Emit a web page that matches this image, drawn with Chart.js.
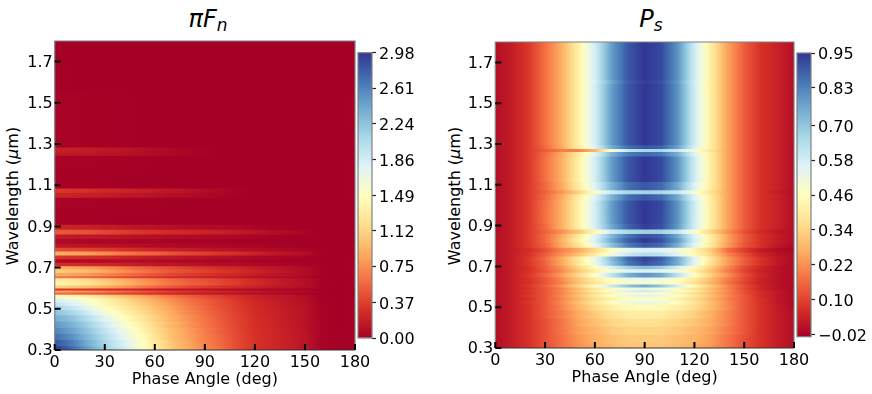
<!DOCTYPE html>
<html>
<head>
<meta charset="utf-8">
<script src="https://cdn.jsdelivr.net/npm/chart.js@4"></script>
<style>
  html, body { margin: 0; padding: 0; background: #fff; }
  body { width: 872px; height: 394px; position: relative; overflow: hidden; font-family: 'DejaVu Sans', sans-serif; color: #000; }
  canvas { position: absolute; top: 0; }
  .title { position: absolute; top: 4px; font-size: 24px; line-height: 30px; font-style: italic; white-space: nowrap; transform: translateX(-50%); }
  .title sub { font-size: 17px; line-height: 0; vertical-align: -4px; }
  .ylabel { position: absolute; top: 196px; font-size: 16px; line-height: 18px; white-space: nowrap; transform: translate(-50%, -50%) rotate(-90deg); }
</style>
</head>
<body>
<div class="title" style="left:208px">πF<sub>n</sub></div>
<div class="title" style="left:651px">P<sub>s</sub></div>
<div class="ylabel" style="left:13px">Wavelength (<i>μ</i>m)</div>
<div class="ylabel" style="left:455px">Wavelength (<i>μ</i>m)</div>
<canvas id="fluxChart"></canvas>
<canvas id="fluxBar"></canvas>
<canvas id="polChart"></canvas>
<canvas id="polBar"></canvas>
<script>
const phases = [0, 10, 20, 30, 40, 50, 60, 70, 80, 90, 100, 110, 120, 130, 140, 150, 160, 170, 180];
const phaseTicks = [0, 30, 60, 90, 120, 150, 180];
const wavelengthTicks = [0.3, 0.5, 0.7, 0.9, 1.1, 1.3, 1.5, 1.7];
const fluxTicks = [0, 0.37, 0.75, 1.12, 1.49, 1.86, 2.24, 2.61, 2.98];
const polTicks = [-0.02, 0.10, 0.22, 0.34, 0.46, 0.58, 0.70, 0.83, 0.95];

const fluxWavelengths = [0.30, 0.33, 0.36, 0.39, 0.42, 0.45, 0.48, 0.50, 0.52, 0.535, 0.55, 0.56, 0.57, 0.58, 0.59, 0.60, 0.62, 0.64, 0.65, 0.66, 0.68, 0.695, 0.71, 0.73, 0.745, 0.765, 0.785, 0.80, 0.825, 0.845, 0.87, 0.89, 0.92, 1.02, 1.05, 1.07, 1.09, 1.23, 1.25, 1.27, 1.29, 1.80];
const fluxValues = [
  [2.98, 2.75, 2.45, 2.15, 1.90, 1.62, 1.30, 1.05, 0.88, 0.72, 0.58, 0.43, 0.30, 0.25, 0.19, 0.13, 0.02, 0, 0],
  [2.85, 2.65, 2.38, 2.10, 1.85, 1.58, 1.28, 1.03, 0.86, 0.70, 0.56, 0.42, 0.30, 0.25, 0.19, 0.13, 0.02, 0, 0],
  [2.72, 2.54, 2.30, 2.04, 1.78, 1.52, 1.24, 1.00, 0.84, 0.68, 0.55, 0.41, 0.30, 0.24, 0.19, 0.13, 0.02, 0, 0],
  [2.60, 2.44, 2.22, 1.97, 1.72, 1.45, 1.20, 0.98, 0.82, 0.66, 0.53, 0.40, 0.29, 0.24, 0.18, 0.12, 0.02, 0, 0],
  [2.50, 2.36, 2.14, 1.88, 1.62, 1.38, 1.15, 0.95, 0.79, 0.64, 0.51, 0.39, 0.29, 0.23, 0.18, 0.12, 0.02, 0, 0],
  [2.38, 2.24, 2.02, 1.76, 1.52, 1.30, 1.10, 0.92, 0.76, 0.62, 0.49, 0.38, 0.28, 0.23, 0.17, 0.12, 0.02, 0, 0],
  [2.25, 2.10, 1.88, 1.62, 1.42, 1.22, 1.05, 0.88, 0.72, 0.59, 0.47, 0.37, 0.27, 0.22, 0.17, 0.11, 0.02, 0, 0],
  [2.12, 1.96, 1.74, 1.52, 1.34, 1.16, 1.00, 0.84, 0.69, 0.56, 0.45, 0.35, 0.26, 0.21, 0.16, 0.11, 0.02, 0, 0],
  [1.98, 1.82, 1.62, 1.42, 1.25, 1.10, 0.95, 0.80, 0.66, 0.54, 0.44, 0.34, 0.25, 0.20, 0.15, 0.10, 0.02, 0, 0],
  [1.85, 1.74, 1.55, 1.38, 1.22, 1.05, 0.90, 0.75, 0.62, 0.52, 0.42, 0.33, 0.24, 0.19, 0.14, 0.10, 0.01, 0, 0],
  [1.65, 1.56, 1.42, 1.26, 1.10, 0.96, 0.82, 0.68, 0.57, 0.47, 0.38, 0.30, 0.22, 0.17, 0.13, 0.09, 0.01, 0, 0],
  [1.42, 1.36, 1.27, 1.14, 1.00, 0.87, 0.74, 0.62, 0.52, 0.43, 0.35, 0.28, 0.21, 0.16, 0.12, 0.08, 0.01, 0, 0],
  [0.60, 0.57, 0.53, 0.48, 0.42, 0.36, 0.31, 0.26, 0.21, 0.18, 0.15, 0.12, 0.09, 0.07, 0.05, 0.03, 0, 0, 0],
  [0.85, 0.81, 0.75, 0.67, 0.59, 0.51, 0.44, 0.37, 0.32, 0.27, 0.22, 0.18, 0.14, 0.11, 0.08, 0.06, 0.01, 0, 0],
  [0.32, 0.31, 0.29, 0.26, 0.23, 0.20, 0.17, 0.14, 0.12, 0.10, 0.09, 0.07, 0.05, 0.04, 0.03, 0.02, 0, 0, 0],
  [1.10, 1.05, 0.98, 0.88, 0.78, 0.67, 0.57, 0.48, 0.41, 0.35, 0.30, 0.25, 0.20, 0.16, 0.12, 0.08, 0.01, 0, 0],
  [1.38, 1.32, 1.22, 1.10, 0.97, 0.84, 0.73, 0.62, 0.54, 0.48, 0.41, 0.34, 0.27, 0.20, 0.14, 0.09, 0.01, 0, 0],
  [1.30, 1.24, 1.15, 1.03, 0.91, 0.79, 0.69, 0.59, 0.51, 0.45, 0.39, 0.32, 0.25, 0.19, 0.13, 0.09, 0.01, 0, 0],
  [0.62, 0.60, 0.56, 0.50, 0.44, 0.38, 0.33, 0.28, 0.24, 0.21, 0.18, 0.15, 0.11, 0.09, 0.06, 0.04, 0, 0, 0],
  [0.88, 0.85, 0.79, 0.71, 0.63, 0.54, 0.47, 0.41, 0.36, 0.31, 0.27, 0.23, 0.18, 0.14, 0.10, 0.07, 0.01, 0, 0],
  [1.08, 1.03, 0.96, 0.86, 0.76, 0.66, 0.57, 0.49, 0.44, 0.38, 0.33, 0.28, 0.22, 0.17, 0.12, 0.08, 0.01, 0, 0],
  [0.92, 0.88, 0.82, 0.74, 0.65, 0.56, 0.49, 0.43, 0.37, 0.32, 0.27, 0.23, 0.18, 0.14, 0.10, 0.07, 0.01, 0, 0],
  [0.28, 0.27, 0.25, 0.23, 0.20, 0.17, 0.15, 0.13, 0.11, 0.10, 0.08, 0.07, 0.05, 0.04, 0.03, 0.02, 0, 0, 0],
  [0.05, 0.05, 0.06, 0.07, 0.08, 0.08, 0.07, 0.06, 0.05, 0.04, 0.03, 0.03, 0.02, 0.01, 0.01, 0, 0, 0, 0],
  [0.30, 0.29, 0.27, 0.25, 0.22, 0.19, 0.16, 0.14, 0.12, 0.10, 0.08, 0.07, 0.05, 0.04, 0.03, 0.02, 0, 0, 0],
  [0.90, 0.87, 0.82, 0.74, 0.66, 0.59, 0.54, 0.47, 0.41, 0.37, 0.32, 0.27, 0.21, 0.16, 0.12, 0.08, 0.01, 0, 0],
  [0.42, 0.40, 0.38, 0.34, 0.30, 0.26, 0.22, 0.19, 0.17, 0.14, 0.12, 0.10, 0.08, 0.06, 0.05, 0.03, 0, 0, 0],
  [0.14, 0.13, 0.12, 0.11, 0.10, 0.09, 0.07, 0.06, 0.05, 0.05, 0.04, 0.03, 0.03, 0.02, 0.01, 0, 0, 0, 0],
  [0.05, 0.05, 0.04, 0.04, 0.04, 0.03, 0.03, 0.02, 0.02, 0.02, 0.01, 0.01, 0, 0, 0, 0, 0, 0, 0],
  [0.16, 0.15, 0.14, 0.13, 0.12, 0.10, 0.09, 0.08, 0.07, 0.06, 0.05, 0.04, 0.03, 0.02, 0.01, 0.01, 0, 0, 0],
  [0.50, 0.48, 0.45, 0.41, 0.36, 0.32, 0.29, 0.26, 0.24, 0.22, 0.19, 0.16, 0.12, 0.09, 0.06, 0.03, 0, 0, 0],
  [0.22, 0.21, 0.19, 0.17, 0.15, 0.13, 0.11, 0.10, 0.08, 0.07, 0.06, 0.05, 0.03, 0.02, 0.01, 0, 0, 0, 0],
  [0.01, 0.01, 0.01, 0.01, 0, 0, 0, 0, 0, 0, 0, 0, 0, 0, 0, 0, 0, 0, 0],
  [0.02, 0.02, 0.02, 0.01, 0.01, 0.01, 0.01, 0, 0, 0, 0, 0, 0, 0, 0, 0, 0, 0, 0],
  [0.22, 0.21, 0.19, 0.17, 0.15, 0.13, 0.11, 0.09, 0.07, 0.05, 0.03, 0.01, 0, 0, 0, 0, 0, 0, 0],
  [0.33, 0.31, 0.28, 0.25, 0.23, 0.20, 0.17, 0.14, 0.11, 0.08, 0.05, 0.02, 0, 0, 0, 0, 0, 0, 0],
  [0.01, 0.01, 0.01, 0.01, 0, 0, 0, 0, 0, 0, 0, 0, 0, 0, 0, 0, 0, 0, 0],
  [0.02, 0.02, 0.02, 0.01, 0.01, 0.01, 0, 0, 0, 0, 0, 0, 0, 0, 0, 0, 0, 0, 0],
  [0.16, 0.15, 0.14, 0.12, 0.11, 0.09, 0.07, 0.05, 0.03, 0.01, 0, 0, 0, 0, 0, 0, 0, 0, 0],
  [0.20, 0.19, 0.17, 0.15, 0.13, 0.10, 0.07, 0.05, 0.03, 0.01, 0, 0, 0, 0, 0, 0, 0, 0, 0],
  [0.02, 0.02, 0.01, 0.01, 0.01, 0, 0, 0, 0, 0, 0, 0, 0, 0, 0, 0, 0, 0, 0],
  [0, 0, 0, 0, 0, 0, 0, 0, 0, 0, 0, 0, 0, 0, 0, 0, 0, 0, 0]
];

const polWavelengths = [0.30, 0.34, 0.38, 0.42, 0.46, 0.50, 0.52, 0.535, 0.555, 0.565, 0.575, 0.585, 0.60, 0.615, 0.63, 0.655, 0.675, 0.69, 0.71, 0.735, 0.755, 0.775, 0.80, 0.825, 0.845, 0.865, 0.89, 0.92, 1.00, 1.04, 1.06, 1.08, 1.14, 1.22, 1.25, 1.265, 1.28, 1.30, 1.40, 1.58, 1.60, 1.62, 1.80];
const polValues = [
  [0, 0.03, 0.07, 0.12, 0.17, 0.22, 0.26, 0.29, 0.31, 0.31, 0.31, 0.29, 0.27, 0.23, 0.18, 0.12, 0.07, 0.03, 0],
  [0, 0.03, 0.07, 0.12, 0.17, 0.23, 0.27, 0.30, 0.32, 0.32, 0.32, 0.30, 0.28, 0.24, 0.18, 0.12, 0.07, 0.03, 0],
  [0, 0.03, 0.07, 0.12, 0.18, 0.24, 0.28, 0.32, 0.34, 0.34, 0.34, 0.32, 0.29, 0.25, 0.19, 0.13, 0.07, 0.03, 0],
  [0, 0.03, 0.07, 0.12, 0.18, 0.25, 0.30, 0.34, 0.36, 0.37, 0.36, 0.34, 0.31, 0.26, 0.20, 0.13, 0.07, 0.03, 0],
  [0, 0.03, 0.07, 0.13, 0.19, 0.26, 0.32, 0.37, 0.40, 0.41, 0.40, 0.37, 0.33, 0.27, 0.20, 0.13, 0.07, 0.03, 0],
  [0, 0.03, 0.07, 0.13, 0.20, 0.28, 0.35, 0.41, 0.44, 0.45, 0.44, 0.41, 0.36, 0.29, 0.21, 0.13, 0.07, 0.03, -0.01],
  [0, 0.03, 0.08, 0.13, 0.21, 0.30, 0.38, 0.46, 0.51, 0.53, 0.51, 0.46, 0.38, 0.30, 0.21, 0.13, 0.07, 0.02, -0.01],
  [0, 0.03, 0.07, 0.13, 0.20, 0.28, 0.36, 0.42, 0.46, 0.47, 0.46, 0.42, 0.36, 0.28, 0.20, 0.13, 0.07, 0.02, -0.01],
  [0, 0.03, 0.08, 0.13, 0.21, 0.30, 0.39, 0.47, 0.52, 0.54, 0.52, 0.47, 0.39, 0.30, 0.21, 0.13, 0.06, 0.02, -0.01],
  [0, 0.03, 0.07, 0.13, 0.20, 0.28, 0.36, 0.43, 0.47, 0.48, 0.47, 0.43, 0.36, 0.28, 0.20, 0.12, 0.06, 0.02, -0.01],
  [0, 0.03, 0.08, 0.13, 0.21, 0.31, 0.41, 0.50, 0.57, 0.60, 0.57, 0.50, 0.41, 0.31, 0.21, 0.12, 0.06, 0.02, -0.01],
  [0, 0.03, 0.07, 0.13, 0.20, 0.29, 0.38, 0.45, 0.50, 0.52, 0.50, 0.45, 0.38, 0.29, 0.20, 0.11, 0.05, 0.01, -0.01],
  [0, 0.03, 0.08, 0.14, 0.23, 0.34, 0.46, 0.60, 0.71, 0.76, 0.70, 0.58, 0.44, 0.32, 0.21, 0.12, 0.05, 0.01, -0.01],
  [0, 0.03, 0.07, 0.13, 0.20, 0.30, 0.38, 0.45, 0.49, 0.50, 0.49, 0.45, 0.37, 0.28, 0.18, 0.10, 0.04, 0.01, -0.01],
  [0, 0.03, 0.07, 0.13, 0.21, 0.31, 0.40, 0.47, 0.51, 0.53, 0.51, 0.47, 0.39, 0.29, 0.19, 0.11, 0.04, 0.01, -0.01],
  [0, 0.03, 0.08, 0.15, 0.24, 0.35, 0.47, 0.62, 0.75, 0.80, 0.76, 0.63, 0.46, 0.33, 0.22, 0.12, 0.05, 0.01, -0.01],
  [0, 0.03, 0.07, 0.13, 0.21, 0.31, 0.41, 0.49, 0.55, 0.57, 0.55, 0.50, 0.41, 0.30, 0.19, 0.10, 0.04, 0.01, -0.01],
  [0, 0.03, 0.07, 0.14, 0.23, 0.34, 0.45, 0.57, 0.67, 0.72, 0.68, 0.58, 0.45, 0.33, 0.21, 0.11, 0.05, 0.01, -0.01],
  [0, 0.03, 0.08, 0.15, 0.26, 0.38, 0.52, 0.70, 0.85, 0.91, 0.87, 0.75, 0.55, 0.37, 0.24, 0.14, 0.07, 0.02, -0.01],
  [0, 0.03, 0.08, 0.16, 0.26, 0.39, 0.53, 0.72, 0.87, 0.93, 0.89, 0.76, 0.56, 0.38, 0.24, 0.14, 0.07, 0.02, -0.01],
  [0, 0.03, 0.07, 0.14, 0.22, 0.30, 0.40, 0.51, 0.60, 0.64, 0.62, 0.55, 0.45, 0.34, 0.21, 0.12, 0.05, 0.01, -0.01],
  [0, 0.03, 0.06, 0.12, 0.20, 0.26, 0.35, 0.46, 0.54, 0.57, 0.56, 0.51, 0.43, 0.32, 0.17, 0.09, 0.03, 0, -0.02],
  [0, 0.03, 0.08, 0.15, 0.26, 0.38, 0.53, 0.71, 0.84, 0.90, 0.87, 0.75, 0.55, 0.39, 0.24, 0.13, 0.07, 0.02, -0.01],
  [0, 0.03, 0.08, 0.16, 0.27, 0.41, 0.57, 0.76, 0.89, 0.95, 0.91, 0.79, 0.58, 0.40, 0.25, 0.14, 0.07, 0.03, 0],
  [0, 0.03, 0.08, 0.16, 0.26, 0.39, 0.55, 0.73, 0.85, 0.91, 0.88, 0.76, 0.56, 0.40, 0.25, 0.14, 0.07, 0.03, 0],
  [0, 0.03, 0.08, 0.15, 0.22, 0.31, 0.44, 0.59, 0.66, 0.68, 0.67, 0.61, 0.48, 0.34, 0.22, 0.12, 0.06, 0.02, 0],
  [0, 0.03, 0.08, 0.16, 0.27, 0.41, 0.57, 0.76, 0.88, 0.94, 0.91, 0.79, 0.58, 0.40, 0.25, 0.14, 0.07, 0.04, 0],
  [0, 0.03, 0.08, 0.17, 0.27, 0.41, 0.58, 0.78, 0.90, 0.95, 0.92, 0.80, 0.59, 0.40, 0.25, 0.14, 0.07, 0.04, 0],
  [0, 0.03, 0.08, 0.17, 0.27, 0.41, 0.58, 0.78, 0.90, 0.95, 0.92, 0.80, 0.59, 0.40, 0.25, 0.14, 0.07, 0.04, 0],
  [0, 0.03, 0.08, 0.16, 0.26, 0.40, 0.56, 0.74, 0.86, 0.90, 0.87, 0.76, 0.56, 0.40, 0.25, 0.14, 0.07, 0.04, 0],
  [0, 0.03, 0.08, 0.15, 0.23, 0.33, 0.47, 0.60, 0.66, 0.67, 0.66, 0.61, 0.49, 0.37, 0.25, 0.14, 0.07, 0.03, 0],
  [0, 0.03, 0.08, 0.16, 0.26, 0.40, 0.56, 0.74, 0.86, 0.90, 0.87, 0.76, 0.56, 0.40, 0.25, 0.14, 0.07, 0.04, 0],
  [0, 0.03, 0.08, 0.17, 0.27, 0.41, 0.58, 0.78, 0.90, 0.95, 0.92, 0.80, 0.59, 0.40, 0.25, 0.14, 0.07, 0.04, 0],
  [0, 0.03, 0.08, 0.17, 0.27, 0.41, 0.58, 0.78, 0.90, 0.95, 0.92, 0.80, 0.59, 0.40, 0.25, 0.14, 0.07, 0.04, 0],
  [0, 0.03, 0.08, 0.16, 0.26, 0.39, 0.55, 0.74, 0.84, 0.87, 0.85, 0.75, 0.56, 0.40, 0.25, 0.14, 0.07, 0.04, 0],
  [0, 0.03, 0.08, 0.14, 0.19, 0.20, 0.28, 0.48, 0.62, 0.66, 0.66, 0.60, 0.50, 0.38, 0.25, 0.14, 0.07, 0.04, 0],
  [0, 0.03, 0.08, 0.16, 0.26, 0.40, 0.56, 0.75, 0.86, 0.90, 0.88, 0.77, 0.57, 0.40, 0.25, 0.14, 0.07, 0.04, 0],
  [0, 0.03, 0.08, 0.17, 0.27, 0.41, 0.58, 0.78, 0.90, 0.95, 0.92, 0.80, 0.59, 0.40, 0.25, 0.14, 0.07, 0.04, 0],
  [0, 0.03, 0.08, 0.17, 0.27, 0.41, 0.58, 0.78, 0.90, 0.95, 0.92, 0.80, 0.59, 0.40, 0.25, 0.14, 0.07, 0.04, 0],
  [0, 0.03, 0.08, 0.17, 0.27, 0.41, 0.58, 0.78, 0.90, 0.95, 0.92, 0.80, 0.59, 0.40, 0.25, 0.14, 0.07, 0.04, 0],
  [0, 0.03, 0.08, 0.17, 0.27, 0.41, 0.57, 0.76, 0.89, 0.94, 0.91, 0.79, 0.58, 0.40, 0.25, 0.14, 0.07, 0.04, 0],
  [0, 0.03, 0.08, 0.17, 0.27, 0.41, 0.58, 0.78, 0.90, 0.95, 0.92, 0.80, 0.59, 0.40, 0.25, 0.14, 0.07, 0.04, 0],
  [0, 0.03, 0.08, 0.17, 0.27, 0.41, 0.58, 0.78, 0.90, 0.95, 0.92, 0.80, 0.59, 0.40, 0.25, 0.14, 0.07, 0.04, 0]
];

// RdYlBu, low to high
const colormap = [[165,0,38],[215,48,39],[244,109,67],[253,174,97],[254,224,144],[255,255,191],[224,243,248],[171,217,233],[116,173,209],[69,117,180],[49,54,149]];

function colorAt(t) {
  const p = Math.min(Math.max(t, 0), 1) * (colormap.length - 1);
  const i = Math.min(Math.floor(p), colormap.length - 2);
  const f = p - i;
  const c = colormap[i].map((v, k) => Math.round(v + (colormap[i + 1][k] - v) * f));
  return `rgb(${c[0]},${c[1]},${c[2]})`;
}

// horizontal gradient for one wavelength row, stops placed through the x scale
function rowGradient(chart, row, vmin, vmax) {
  const x = chart.scales.x;
  const x0 = x.getPixelForValue(phases[0]);
  const x1 = x.getPixelForValue(phases[phases.length - 1]);
  // options get resolved once before the layout has run
  if (!Number.isFinite(x0) || !Number.isFinite(x1) || x0 === x1) return colorAt(0);
  const g = chart.ctx.createLinearGradient(x0, 0, x1, 0);
  const norm = v => (v - vmin) / (vmax - vmin);
  for (let i = 0; i < phases.length - 1; i++) {
    for (let s = 0; s < 4; s++) {
      const f = s / 4;
      const px = x.getPixelForValue(phases[i] + (phases[i + 1] - phases[i]) * f);
      g.addColorStop((px - x0) / (x1 - x0), colorAt(norm(row[i] + (row[i + 1] - row[i]) * f)));
    }
  }
  g.addColorStop(1, colorAt(norm(row[row.length - 1])));
  return g;
}

// spines plus the inward tick marks
const panelFrame = {
  id: 'panelFrame',
  afterDraw(chart) {
    const { ctx, chartArea: a, scales } = chart;
    ctx.save();
    ctx.strokeStyle = '#808080';
    ctx.lineWidth = 1.2;
    ctx.beginPath();
    ctx.moveTo(a.left, a.bottom);
    ctx.lineTo(a.left, a.top);
    ctx.lineTo(a.right, a.top);
    ctx.lineTo(a.right, a.bottom);
    ctx.stroke();
    ctx.strokeStyle = '#333';
    ctx.beginPath();
    ctx.moveTo(a.left, a.bottom);
    ctx.lineTo(a.right, a.bottom);
    ctx.stroke();
    ctx.strokeStyle = '#000';
    ctx.lineWidth = 2;
    ctx.beginPath();
    scales.x.ticks.forEach(t => {
      const px = scales.x.getPixelForValue(t.value);
      ctx.moveTo(px, a.bottom);
      ctx.lineTo(px, a.bottom - 6);
    });
    scales.y.ticks.forEach(t => {
      const py = scales.y.getPixelForValue(t.value);
      ctx.moveTo(a.left, py);
      ctx.lineTo(a.left + 6, py);
    });
    ctx.stroke();
    ctx.restore();
  }
};

const tickFont = { family: "'DejaVu Sans'", size: 16 };

function place(id, left, width) {
  const c = document.getElementById(id);
  c.style.left = left + 'px';
  c.width = width;
  c.height = 394;
  return c;
}

function drawHeatmap(id, left, p, wavelengths, values, vmin, vmax) {
  const canvas = place(id, left, p.axisWidth + p.plotWidth + 22);
  const pxPerUnit = (p.bottom - p.top) / 1.5;
  const edges = wavelengths.map((w, i) => [
    i === 0 ? w : (w + wavelengths[i - 1]) / 2,
    i === wavelengths.length - 1 ? w : (w + wavelengths[i + 1]) / 2
  ]);
  const datasets = values.map((row, i) => ({
    data: [{ x: [phases[0], phases[phases.length - 1]], y: (edges[i][0] + edges[i][1]) / 2 }],
    stack: 'rows',
    barThickness: (edges[i][1] - edges[i][0]) * pxPerUnit + 0.8,
    borderWidth: 0,
    backgroundColor: ctx => rowGradient(ctx.chart, row, vmin, vmax)
  }));
  return new Chart(canvas, {
    type: 'bar',
    data: { datasets },
    plugins: [panelFrame],
    options: {
      indexAxis: 'y',
      responsive: false,
      animation: false,
      events: [],
      layout: { autoPadding: false, padding: { top: p.top, right: 22, left: 0, bottom: 0 } },
      plugins: { legend: { display: false }, title: { display: false }, tooltip: { enabled: false } },
      scales: {
        x: {
          type: 'linear', min: 0, max: 180, stacked: false,
          afterBuildTicks: s => { s.ticks = phaseTicks.map(value => ({ value })); },
          afterFit: s => { s.height = 394 - p.bottom; },
          grid: { drawOnChartArea: false, drawTicks: false },
          border: { display: false },
          ticks: { color: '#000', font: tickFont, padding: 3, maxRotation: 0, autoSkip: false },
          title: { display: true, text: 'Phase Angle (deg)', color: '#000', font: { family: "'DejaVu Sans'", size: 16 }, padding: { top: 0, bottom: p.labelGap } }
        },
        y: {
          type: 'linear', min: 0.3, max: 1.8, offset: false,
          afterBuildTicks: s => { s.ticks = wavelengthTicks.map(value => ({ value })); },
          afterFit: s => { s.width = p.axisWidth; },
          grid: { offset: false, drawOnChartArea: false, drawTicks: false },
          border: { display: false },
          ticks: { color: '#000', font: tickFont, padding: 2, autoSkip: false, labelOffset: 1, callback: v => v.toFixed(1) }
        }
      }
    }
  });
}

function drawColorbar(id, left, p, ticks, vmin, vmax, labels) {
  const canvas = place(id, left, 90);
  const area = { top: p.barTop, bottom: p.barBottom };
  return new Chart(canvas, {
    type: 'bar',
    data: {
      labels: [''],
      datasets: [{
        data: [[vmin, vmax]],
        barPercentage: 1,
        categoryPercentage: 1,
        borderWidth: 0,
        backgroundColor: ctx => {
          const y = ctx.chart.scales.y;
          const y0 = y.getPixelForValue(vmin);
          const y1 = y.getPixelForValue(vmax);
          if (!Number.isFinite(y0) || !Number.isFinite(y1) || y0 === y1) return colorAt(0);
          const g = ctx.chart.ctx.createLinearGradient(0, y0, 0, y1);
          for (let i = 0; i <= 40; i++) g.addColorStop(i / 40, colorAt(i / 40));
          return g;
        }
      }]
    },
    plugins: [{
      id: 'barFrame',
      afterDraw(chart) {
        const { ctx, chartArea: a } = chart;
        ctx.save();
        ctx.strokeStyle = '#808080';
        ctx.lineWidth = 1.2;
        ctx.strokeRect(a.left, a.top, a.right - a.left, a.bottom - a.top);
        ctx.restore();
      }
    }],
    options: {
      responsive: false,
      animation: false,
      events: [],
      layout: { autoPadding: false, padding: { top: area.top, left: 1, right: 0, bottom: 394 - area.bottom } },
      plugins: { legend: { display: false }, title: { display: false }, tooltip: { enabled: false } },
      scales: {
        x: { display: false, afterFit: s => { s.height = 0; } },
        y: {
          position: 'right',
          min: vmin, max: vmax,
          afterBuildTicks: s => { s.ticks = ticks.map(value => ({ value })); },
          afterFit: s => { s.width = 75; },
          grid: { drawOnChartArea: false, tickLength: 4, tickWidth: 1.2, tickColor: '#222' },
          border: { display: false },
          ticks: { color: '#000', font: tickFont, padding: 3, autoSkip: false, labelOffset: 2, callback: (v, i) => labels[i] }
        }
      }
    }
  });
}

const fluxPanel = { axisWidth: 54.7, plotWidth: 300.3, top: 41, bottom: 350, labelGap: 5 };
const polPanel = { axisWidth: 55.3, plotWidth: 298.7, top: 42, bottom: 348, labelGap: 7 };

drawHeatmap('fluxChart', 0, fluxPanel, fluxWavelengths, fluxValues, 0, 2.98);
drawHeatmap('polChart', 440, polPanel, polWavelengths, polValues, -0.028, 0.95);
drawColorbar('fluxBar', 357, { barTop: 52.7, barBottom: 338 }, fluxTicks, 0, 2.98, fluxTicks.map(v => v.toFixed(2)));
drawColorbar('polBar', 796, { barTop: 53, barBottom: 336.7 }, polTicks, -0.028, 0.95, polTicks.map(v => v.toFixed(2).replace('-', '\u2212')));
</script>
</body>
</html>
